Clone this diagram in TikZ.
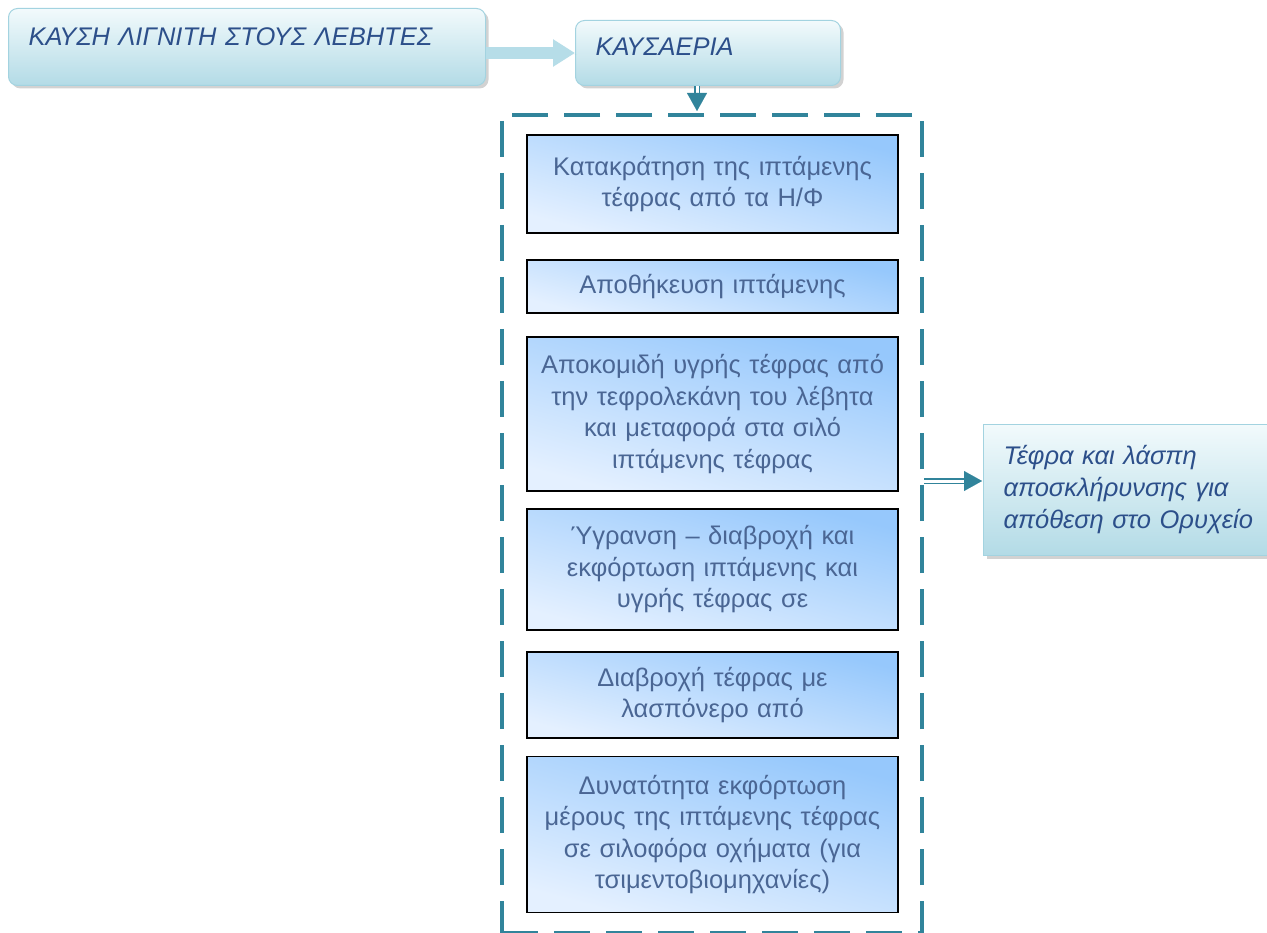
\documentclass[tikz,border=0pt]{standalone}
\usepackage{fontspec}
\setmainfont{Liberation Sans}
\usetikzlibrary{arrows.meta,shadows,calc}
\definecolor{hdtext}{HTML}{2C4F8A}
\definecolor{intext}{HTML}{4A6694}
\definecolor{boxlight}{HTML}{F2FAFC}
\definecolor{boxdark}{HTML}{B3DBE6}
\definecolor{boxline}{HTML}{A3D3E0}
\definecolor{inlight}{HTML}{E4F0FF}
\definecolor{indark}{HTML}{96C8FC}
\definecolor{tealc}{HTML}{31849B}
\definecolor{fatarrow}{HTML}{B6DDE8}
\begin{document}
\begin{tikzpicture}[x=1pt,y=-1pt,
  hdbox/.style={draw=boxline, line width=1pt, rounded corners=9pt,
    top color=boxlight, bottom color=boxdark,
    drop shadow={shadow xshift=3pt, shadow yshift=-3pt, opacity=0.35},
    font=\fontsize{25.5}{32}\selectfont\itshape, text=hdtext, align=left,
    inner xsep=20pt, inner ysep=8pt, anchor=north west},
  inbox/.style={draw=black, line width=1.5pt, inner sep=0pt,
    minimum width=371pt, text width=362pt, align=center,
    top color=indark, bottom color=inlight, shading angle=-15,
    font=\fontsize{25.5}{31.5}\selectfont, text=intext},
  outbox/.style={draw=boxline, line width=1pt,
    top color=boxlight, bottom color=boxdark,
    drop shadow={shadow xshift=3pt, shadow yshift=-4pt, opacity=0.35},
    font=\fontsize{25.5}{32}\selectfont\itshape, text=hdtext, align=left,
    inner xsep=20pt, text width=270pt, minimum height=131pt, anchor=west},
  frame/.style={draw=tealc, line width=4pt, dash pattern=on 36pt off 16pt},
  dblshaft/.style={draw=tealc, double=white, double distance=3pt, line width=1.6pt},
  tealhead/.style={draw=tealc, fill=tealc, line width=0.1pt,
    -{Triangle[length=18pt, width=20pt]}},
]
\clip (0,0) rectangle (1267,933);
\fill[white] (0,0) rectangle (1267,933);

% combustion and flue gases
\node[hdbox, text width=437pt, text height=29pt, text depth=32pt] (k1) at (8,8)
  {ΚΑΥΣΗ ΛΙΓΝΙΤΗ ΣΤΟΥΣ ΛΕΒΗΤΕΣ};
\node[hdbox, text width=225pt, text height=27pt, text depth=22pt] (k2) at (575,20)
  {ΚΑΥΣΑΕΡΙΑ};
\draw[fatarrow, line width=12pt, -{Triangle[length=22pt, width=26pt]},
  drop shadow={shadow xshift=2pt, shadow yshift=-2pt, opacity=0.25}]
  (k1.east |- k2.west) -- (k2.west);

% dashed enclosure of the ash handling steps
\node[frame, minimum width=420pt, minimum height=818pt, inner sep=0pt,
  anchor=north west] (fr) at (500,113) {};

% ash handling steps
\node[inbox, minimum height=98pt] (b1) at (712.5,184)
  {Κατακράτηση της ιπτάμενης\\τέφρας από τα Η/Φ};
\node[inbox, minimum height=53pt] (b2) at (712.5,286.5)
  {Αποθήκευση ιπτάμενης};
\node[inbox, minimum height=154pt] (b3) at (712.5,414)
  {Αποκομιδή υγρής τέφρας από\\την τεφρολεκάνη του λέβητα\\και μεταφορά στα σιλό\\ιπτάμενης τέφρας};
\node[inbox, minimum height=121pt] (b4) at (712.5,569.5)
  {Ύγρανση – διαβροχή και\\εκφόρτωση ιπτάμενης  και\\υγρής τέφρας σε};
\node[inbox, minimum height=86pt] (b5) at (712.5,695)
  {Διαβροχή τέφρας με\\λασπόνερο από};
\node[inbox, minimum height=156pt] (b6) at (712.5,834.5)
  {Δυνατότητα εκφόρτωση\\μέρους της ιπτάμενης τέφρας\\σε σιλοφόρα οχήματα (για\\τσιμεντοβιομηχανίες)};

% disposal
\node[outbox] (out) at (983,489.5)
  {Τέφρα και λάσπη\\αποσκλήρυνσης για\\απόθεση στο Ορυχείο};

% connectors
\coordinate (din) at (697,111);
\draw[dblshaft] (din |- k2.south) -- ($(din)+(0,-15)$);
\draw[tealhead] ($(din)+(0,-18)$) -- (din);
\coordinate (rin) at (982,481);
\draw[dblshaft] (fr.east |- rin) -- ($(rin)+(-16,0)$);
\draw[tealhead] ($(rin)+(-18,0)$) -- (rin);
\end{tikzpicture}
\end{document}
